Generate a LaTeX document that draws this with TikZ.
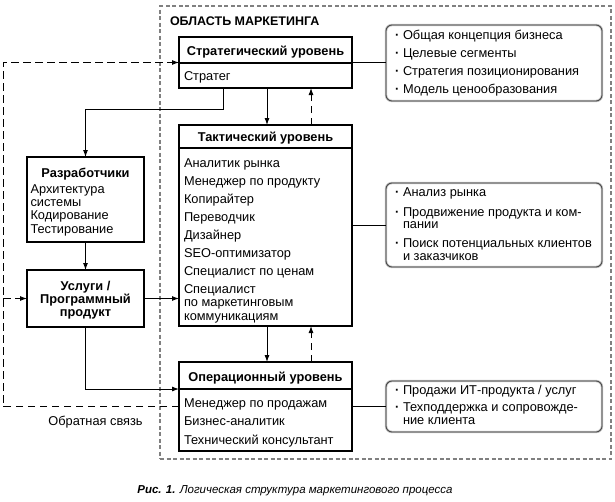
\documentclass[tikz,border=0pt]{standalone}
\usepackage{fontspec}
\setmainfont{Liberation Sans}
\usetikzlibrary{arrows.meta,calc}
\begin{document}
\begin{tikzpicture}[x=1pt,y=-1pt,
  every node/.style={inner sep=0pt, outer sep=0pt},
  txt/.style={font=\fontsize{12.8}{13.5}\selectfont, align=left, anchor=north west},
  hdr/.style={font=\fontsize{12.8}{13}\selectfont\bfseries, anchor=base},
  box/.style={draw, line width=1.1pt, anchor=north west},
  conn/.style={line width=0.9pt},
  tip/.style={-{Latex[length=7pt,width=5pt]}},
  arr/.style={conn, tip},
  fb/.style={conn, dash pattern=on 7.5pt off 4.5pt},
  note/.style={draw=black!75, line width=0.8pt, rounded corners=6pt, anchor=north west},
  noteshadow/.style={draw=black!25, line width=2.4pt, rounded corners=6pt, anchor=north west},
  area/.style={draw=black!50, line width=1.1pt, dash pattern=on 4pt off 2.5pt, anchor=north west},
]
\useasboundingbox (0,0) rectangle (615,501);

% marketing area
\node[area, minimum width=451pt, minimum height=453pt] (area) at (160,6) {};
\node[font=\fontsize{12.5}{13}\selectfont\bfseries, anchor=base west] (areatitle) at (170,25) {ОБЛАСТЬ МАРКЕТИНГА};

% level boxes
\node[box, minimum width=173pt, minimum height=51pt] (strat) at (179,37) {};
\draw[line width=1.1pt] ([yshift=-26pt]strat.north west) -- ([yshift=-26pt]strat.north east);
\node[hdr] (strathdr) at (265.5,55) {Стратегический уровень};
\node[txt, anchor=base west] (stratbody) at (184,80) {Стратег};

\node[box, minimum width=173pt, minimum height=201pt] (tact) at (179,125) {};
\draw[line width=1.1pt] ([yshift=-23pt]tact.north west) -- ([yshift=-23pt]tact.north east);
\node[hdr] (tacthdr) at (265.5,141) {Тактический уровень};
\node[txt] (tactbody) at (184,158.5) {Аналитик рынка\\[4.5pt]
Менеджер по продукту\\[4.5pt]
Копирайтер\\[4.5pt]
Переводчик\\[4.5pt]
Дизайнер\\[4.5pt]
SEO-оптимизатор\\[4.5pt]
Специалист по ценам\\[4.5pt]
Специалист\\
по маркетинговым\\
коммуникациям};

\node[box, minimum width=173pt, minimum height=89pt] (op) at (179,362) {};
\draw[line width=1.1pt] ([yshift=-27pt]op.north west) -- ([yshift=-27pt]op.north east);
\node[hdr] (ophdr) at (265.5,381) {Операционный уровень};
\node[txt] (opbody) at (184,398.5) {Менеджер по продажам\\[5pt]
Бизнес-аналитик\\[5pt]
Технический консультант};

% developers and services
\node[box, minimum width=117pt, minimum height=85pt] (dev) at (27,157) {};
\node[hdr] (devhdr) at (85.5,177) {Разработчики};
\node[txt, font=\fontsize{12.8}{13.4}\selectfont] (devbody) at (30.5,184.2) {Архитектура\\
системы\\
Кодирование\\
Тестирование};

\node[box, minimum width=117pt, minimum height=57pt] (serv) at (27,270) {};
\node[font=\fontsize{12.8}{13}\selectfont\bfseries, align=center, anchor=north] (servtxt) at (85.5,281) {Услуги /\\Программный\\продукт};

% notes
\node[noteshadow, minimum width=216pt, minimum height=76pt] (n1s) at (386,25) {};
\node[note, minimum width=216pt, minimum height=76pt] (n1) at (386,25) {};
\node[txt] (n1txt) at (395,30) {\makebox[8pt][l]{\textbf{·}}Общая концепция бизнеса\\[4.5pt]
\makebox[8pt][l]{\textbf{·}}Целевые сегменты\\[4.5pt]
\makebox[8pt][l]{\textbf{·}}Стратегия позиционирования\\[4.5pt]
\makebox[8pt][l]{\textbf{·}}Модель ценообразования};

\node[noteshadow, minimum width=216pt, minimum height=84pt] (n2s) at (386,183) {};
\node[note, minimum width=216pt, minimum height=84pt] (n2) at (386,183) {};
\node[txt, font=\fontsize{12.8}{12.5}\selectfont] (n2txt) at (395,188) {\makebox[8pt][l]{\textbf{·}}Анализ рынка\\[6.8pt]
\makebox[8pt][l]{\textbf{·}}Продвижение продукта и ком-\\
\hspace*{8pt}пании\\[6.8pt]
\makebox[8pt][l]{\textbf{·}}Поиск потенциальных клиентов\\
\hspace*{8pt}и заказчиков};

\node[noteshadow, minimum width=216pt, minimum height=51pt] (n3s) at (386,381) {};
\node[note, minimum width=216pt, minimum height=51pt] (n3) at (386,381) {};
\node[txt, font=\fontsize{12.8}{12.5}\selectfont] (n3txt) at (395,385.2) {\makebox[8pt][l]{\textbf{·}}Продажи ИТ-продукта / услуг\\[5pt]
\makebox[8pt][l]{\textbf{·}}Техподдержка и сопровожде-\\
\hspace*{8pt}ние клиента};

% connectors to notes
\draw[conn] (strat.east) -- (strat.east -| n1.west);
\draw[conn] (tact.east) -- (tact.east -| n2.west);
\draw[conn] (op.east) -- (op.east -| n3.west);

% level arrows
\draw[arr] ([xshift=1.5pt]strat.south) -- ([xshift=1.5pt]tact.north);
\draw[fb, tip] ([xshift=45.5pt]tact.north) -- ([xshift=45.5pt]strat.south);
\draw[arr] ([xshift=1.5pt]tact.south) -- ([xshift=1.5pt]op.north);
\draw[fb, tip] ([xshift=45.5pt]op.north) -- ([xshift=45.5pt]tact.south);

% strategy -> developers -> services -> tactical / operational
\draw[arr] ([xshift=-42.5pt]strat.south) -- ++(0,21) -| (dev.north);
\draw[arr] (dev.south) -- (serv.north);
\draw[arr] (serv.east) -- (serv.east -| tact.west);
\draw[arr] (serv.south) |- ([yshift=17.5pt]op.west);

% feedback
\coordinate (fbB) at (3,406.5);
\coordinate (fbT) at (3,62.5);
\draw[fb, tip] (op.west) -- (fbB) -- (fbT) -- (strat.west);
\draw[fb, tip] (fbB |- serv.west) -- (serv.west);
\node[font=\fontsize{12.8}{13}\selectfont, anchor=base] (fblabel) at (95.5,425) {Обратная связь};

% caption
\node[font=\fontsize{11.5}{13}\selectfont\itshape, anchor=base] (caption) at (295,493) {\textbf{Рис. 1.} Логическая структура маркетингового процесса};
\end{tikzpicture}
\end{document}
